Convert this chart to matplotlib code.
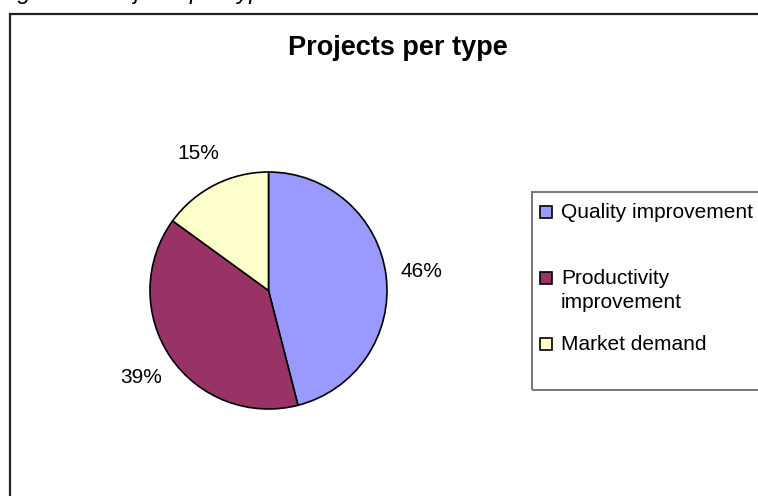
import matplotlib.pyplot as plt
from matplotlib.patches import Rectangle

plt.rcParams['font.family'] = ['Liberation Sans', 'DejaVu Sans']

# data
types = ['Quality improvement', 'Productivity\nimprovement', 'Market demand']
shares = [46, 39, 15]
colors = ['#9999FF', '#993366', '#FFFFCC']

W, H = 758, 496
fig = plt.figure(figsize=(W / 100, H / 100), dpi=100)

def fx(px):
    return px / W

def fy(py):
    return 1 - py / H

# caption of the document, cut off at the top of the picture
fig.text(fx(-2), fy(-1.5), 'Figure 4: Projects per type', fontsize=17,
         style='italic', ha='left', va='baseline')

# chart area frame
fig.patches.append(Rectangle((fx(10), fy(520)), fx(770) - fx(10), fy(14) - fy(520),
                             transform=fig.transFigure, fill=False,
                             edgecolor='#222222', lw=1.6))

fig.text(fx(398), fy(48), 'Projects per type', fontsize=19.5,
         fontweight='bold', ha='center', va='center')

# pie
ax = fig.add_axes([fx(150), fy(409), fx(387) - fx(150), fy(172) - fy(409)])
wedges, _, pcts = ax.pie(shares, colors=colors, startangle=90, counterclock=False,
                         autopct='%1.0f%%', pctdistance=1.3,
                         wedgeprops=dict(edgecolor='black', linewidth=1.2, clip_on=False),
                         textprops=dict(fontsize=15))
ax.set_xlim(-1, 1)
ax.set_ylim(-1, 1)
ax.set_aspect('equal')
ax.axis('off')

# legend
fig.patches.append(Rectangle((fx(532), fy(390)), fx(780) - fx(532), fy(192) - fy(390),
                             transform=fig.transFigure, fill=False,
                             edgecolor='#777777', lw=1.4))
legend_y = [212, 278, 344]
for lab, col, y in zip(types, colors, legend_y):
    fig.patches.append(Rectangle((fx(540), fy(y + 6)), fx(552) - fx(540), fy(y - 6) - fy(y + 6),
                                 transform=fig.transFigure, facecolor=col,
                                 edgecolor='black', lw=1.2))
    fig.text(fx(561), fy(y - 9), lab, fontsize=15, ha='left', va='top',
             linespacing=1.33)

fig.savefig('out.png', dpi=100)
